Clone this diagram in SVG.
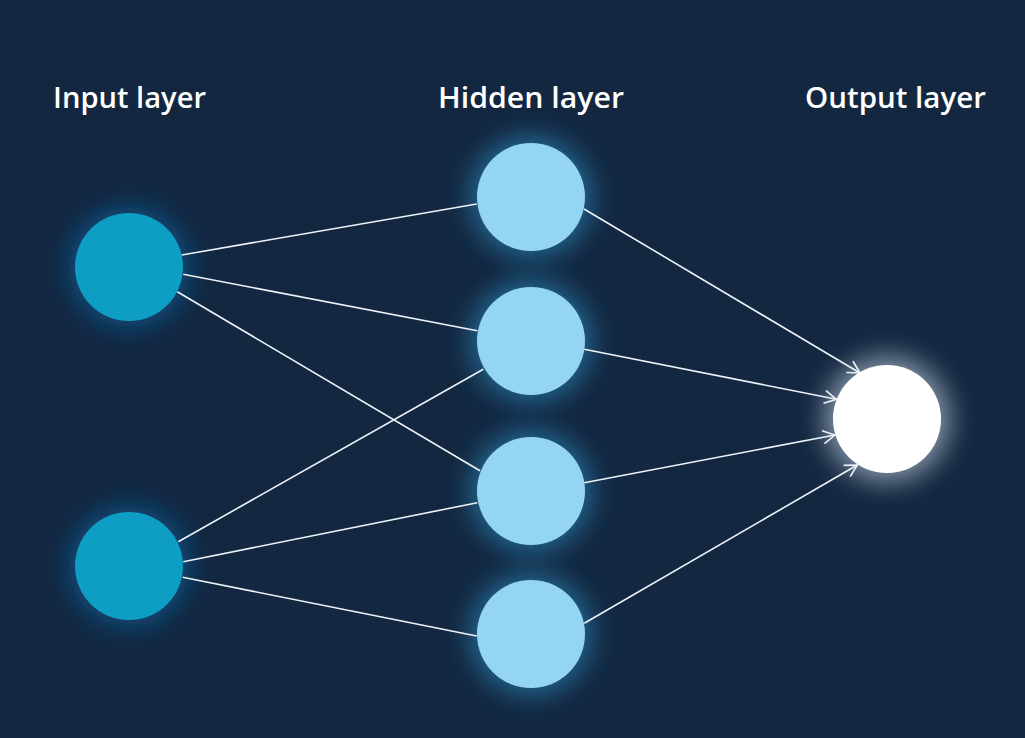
<svg xmlns="http://www.w3.org/2000/svg" width="1025" height="738" viewBox="0 0 1025 738">
<defs>
<style>
.label{font-family:"Open Sans","Liberation Sans",sans-serif;font-size:28px;font-weight:600;fill:#ffffff}
.edge{stroke:#eef3f8;stroke-width:1.6;fill:none}
.in{fill:#0e9ec3}
.hid{fill:#94d5f2}
.out{fill:#ffffff}
</style>
<filter id="glow" x="-80%" y="-80%" width="260%" height="260%">
<feGaussianBlur stdDeviation="14"/>
</filter>
<marker id="arrow" markerUnits="userSpaceOnUse" markerWidth="16" markerHeight="16" viewBox="0 0 16 16" refX="14" refY="8" orient="auto">
<path d="M2,1.5 L14,8 L2,14.5" fill="none" stroke="#eef3f8" stroke-width="1.6"/>
</marker>
</defs>
<rect width="1025" height="738" fill="#132740"/>
<g id="titles">
<text class="label" x="53" y="108" textLength="153" lengthAdjust="spacingAndGlyphs">Input layer</text>
<text class="label" x="438" y="108" textLength="186" lengthAdjust="spacingAndGlyphs">Hidden layer</text>
<text class="label" x="805" y="108" textLength="181" lengthAdjust="spacingAndGlyphs">Output layer</text>
</g>
<g id="glows">
<circle cx="129" cy="267" r="60" fill="#0b5d98" opacity="0.75" filter="url(#glow)"/>
<circle cx="129" cy="566" r="60" fill="#0b5d98" opacity="0.75" filter="url(#glow)"/>
<circle cx="531" cy="197" r="60" fill="#2a8bc0" opacity="0.7" filter="url(#glow)"/>
<circle cx="531" cy="341" r="60" fill="#2a8bc0" opacity="0.7" filter="url(#glow)"/>
<circle cx="531" cy="491" r="60" fill="#2a8bc0" opacity="0.7" filter="url(#glow)"/>
<circle cx="531" cy="634" r="60" fill="#2a8bc0" opacity="0.7" filter="url(#glow)"/>
<circle cx="887" cy="419" r="62" fill="#b8c6d4" opacity="0.75" filter="url(#glow)"/>
</g>
<g id="connectors">
<line class="edge" x1="181.7" y1="255" x2="476.7" y2="204"/>
<line class="edge" x1="183.3" y1="274.3" x2="477.3" y2="330.7"/>
<line class="edge" x1="177.3" y1="291.7" x2="480" y2="470.7"/>
<line class="edge" x1="178.3" y1="541.7" x2="483.3" y2="369.3"/>
<line class="edge" x1="183.3" y1="561.7" x2="477.3" y2="502.7"/>
<line class="edge" x1="182.7" y1="577.3" x2="476.7" y2="636"/>
<line class="edge" x1="584" y1="209" x2="860" y2="373" marker-end="url(#arrow)"/>
<line class="edge" x1="584.3" y1="349.3" x2="836.5" y2="399.3" marker-end="url(#arrow)"/>
<line class="edge" x1="584.3" y1="482.7" x2="835" y2="435" marker-end="url(#arrow)"/>
<line class="edge" x1="584.3" y1="623.3" x2="857.3" y2="465" marker-end="url(#arrow)"/>
</g>
<g id="input1"><circle class="in" cx="129" cy="267" r="54"/></g>
<g id="input2"><circle class="in" cx="129" cy="566" r="54"/></g>
<g id="hidden1"><circle class="hid" cx="531" cy="197" r="54"/></g>
<g id="hidden2"><circle class="hid" cx="531" cy="341" r="54"/></g>
<g id="hidden3"><circle class="hid" cx="531" cy="491" r="54"/></g>
<g id="hidden4"><circle class="hid" cx="531" cy="634" r="54"/></g>
<g id="output"><circle class="out" cx="887" cy="419" r="54"/></g>
</svg>
